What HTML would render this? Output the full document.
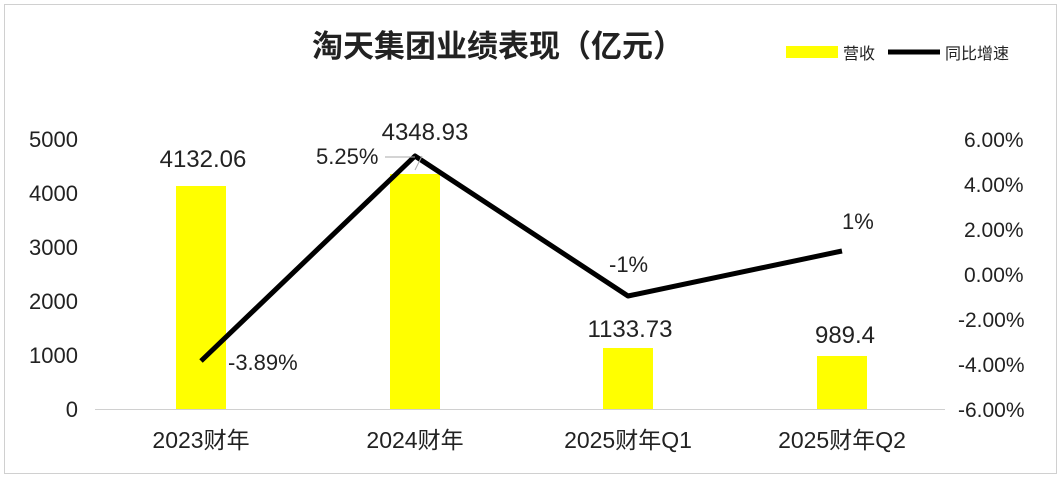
<!DOCTYPE html>
<html><head><meta charset="utf-8"><style>
body{margin:0;background:#fff}
svg text{font-family:"Liberation Sans","Noto Sans CJK SC",sans-serif;fill:#222}
</style></head><body>
<svg width="1062" height="479" xmlns="http://www.w3.org/2000/svg">
<rect x="4.5" y="4.5" width="1052" height="469" fill="#fff" stroke="#d0d0d0"/>
<text x="498" y="57" font-size="31" font-weight="bold" text-anchor="middle">淘天集团业绩表现（亿元）</text>
<rect x="786" y="46" width="52" height="12" fill="#ffff00"/>
<text x="843" y="59" font-size="16">营收</text>
<line x1="888" y1="52" x2="940" y2="52" stroke="#000" stroke-width="5"/>
<text x="945" y="59" font-size="16">同比增速</text>
<g font-size="22" text-anchor="end">
<text x="78" y="147">5000</text><text x="78" y="201">4000</text><text x="78" y="255">3000</text>
<text x="78" y="309">2000</text><text x="78" y="363">1000</text><text x="78" y="417">0</text>
</g>
<g font-size="21">
<text x="964" y="147">6.00%</text><text x="964" y="192">4.00%</text><text x="964" y="237">2.00%</text>
<text x="964" y="282">0.00%</text><text x="958" y="327">-2.00%</text><text x="958" y="372">-4.00%</text>
<text x="958" y="417">-6.00%</text>
</g>
<line x1="95" y1="409.5" x2="945" y2="409.5" stroke="#d0d0d0"/>
<g fill="#ffff00">
<rect x="176" y="186" width="50" height="223"/>
<rect x="390" y="174" width="50" height="235"/>
<rect x="603" y="348" width="50" height="61"/>
<rect x="817" y="356" width="50" height="53"/>
</g>
<g font-size="24" text-anchor="middle">
<text x="203" y="167">4132.06</text>
<text x="425" y="140">4348.93</text>
<text x="630" y="337">1133.73</text>
<text x="845" y="343">989.4</text>
</g>
<polyline points="201,361 415,156 628,296 842,251" fill="none" stroke="#000" stroke-width="5" stroke-linejoin="round"/>
<line x1="385" y1="157" x2="415" y2="157" stroke="#aaa"/>
<line x1="415" y1="170" x2="422" y2="156" stroke="#aaa"/>
<g font-size="22">
<text x="228" y="370">-3.89%</text>
<text x="316" y="164">5.25%</text>
<text x="609" y="272">-1%</text>
<text x="842" y="229">1%</text>
</g>
<g font-size="23" text-anchor="middle">
<text x="201" y="448">2023财年</text>
<text x="415" y="448">2024财年</text>
<text x="628" y="448">2025财年Q1</text>
<text x="842" y="448">2025财年Q2</text>
</g>
</svg>
</body></html>
